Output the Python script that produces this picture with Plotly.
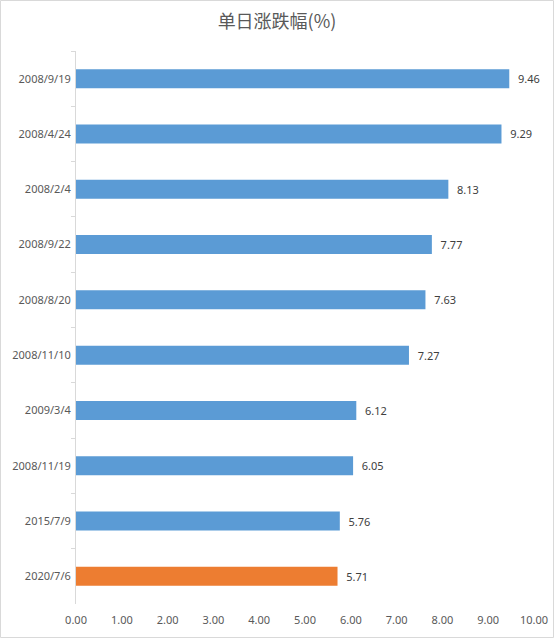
import plotly.graph_objects as go

dates = ['2008/9/19', '2008/4/24', '2008/2/4', '2008/9/22', '2008/8/20',
         '2008/11/10', '2009/3/4', '2008/11/19', '2015/7/9', '2020/7/6']
pct = [9.46, 9.29, 8.13, 7.77, 7.63, 7.27, 6.12, 6.05, 5.76, 5.71]
bar_colors = ['#5B9BD5'] * 9 + ['#ED7D31']
x_ticks = [0, 1, 2, 3, 4, 5, 6, 7, 8, 9, 10]

W, H = 554, 638
L, R, T, B = 76, 20, 51, 34

fig = go.Figure()
fig.add_trace(go.Bar(
    x=pct, y=dates, orientation='h',
    marker=dict(color=bar_colors, line=dict(width=0)),
    texttemplate='  %{x:.2f}', textposition='outside',
    textfont=dict(size=11, color='#404040', family='Noto Sans'),
    cliponaxis=False, hoverinfo='x+y',
))

fig.update_layout(
    width=W, height=H,
    margin=dict(l=L, r=R, t=T, b=B, autoexpand=False),
    paper_bgcolor='white', plot_bgcolor='white',
    title=dict(text='单日涨跌幅(%)', x=0.5, xanchor='center', y=1 - 22 / H, yanchor='middle',
               font=dict(size=18, color='#595959', family='Noto Sans CJK SC')),
    bargap=0.656,
    showlegend=False,
    font=dict(family='Noto Sans', color='#595959', size=11),
)
fig.update_xaxes(range=[0, 10], tickvals=x_ticks, tickformat='.2f',
                 showgrid=False, zeroline=False, showline=False, automargin=False,
                 ticks='outside', ticklen=6, tickcolor='rgba(0,0,0,0)',
                 tickfont=dict(size=11, color='#595959'))
fig.update_yaxes(type='category', categoryorder='array', categoryarray=dates,
                 autorange='reversed', showgrid=False, zeroline=False, automargin=False,
                 showline=True, linecolor='#d9d9d9', linewidth=1,
                 ticks='outside', tickson='boundaries', ticklen=4, tickcolor='#d9d9d9',
                 ticklabelstandoff=2,
                 tickfont=dict(size=11, color='#595959'))

# chart border
fig.add_shape(type='rect', xref='paper', yref='paper',
              xsizemode='pixel', ysizemode='pixel', xanchor=0, yanchor=0,
              x0=-L + 0.5, x1=W - L - 0.5, y0=-B + 0.5, y1=H - B - 0.5,
              line=dict(color='#d9d9d9', width=1), layer='below')

# no page margin so the figure fills the window
fig.write_html('out.html', config={'displayModeBar': False},
               post_script="document.body.style.margin='0';")
